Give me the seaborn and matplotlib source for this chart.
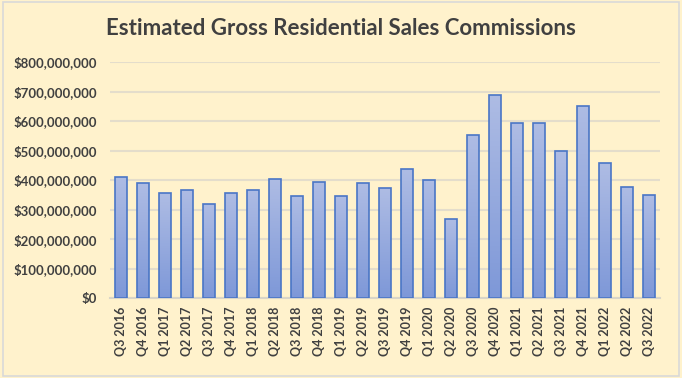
import numpy as np
import pandas as pd
import matplotlib
matplotlib.use('Agg')
import matplotlib.pyplot as plt
import seaborn as sns
from matplotlib.ticker import FuncFormatter
from matplotlib.colors import LinearSegmentedColormap

quarters = ['Q3 2016', 'Q4 2016', 'Q1 2017', 'Q2 2017', 'Q3 2017', 'Q4 2017',
            'Q1 2018', 'Q2 2018', 'Q3 2018', 'Q4 2018', 'Q1 2019', 'Q2 2019',
            'Q3 2019', 'Q4 2019', 'Q1 2020', 'Q2 2020', 'Q3 2020', 'Q4 2020',
            'Q1 2021', 'Q2 2021', 'Q3 2021', 'Q4 2021', 'Q1 2022', 'Q2 2022',
            'Q3 2022']
commissions = [411e6, 389e6, 355e6, 368e6, 318e6, 355e6,
               368e6, 405e6, 347e6, 393e6, 347e6, 389e6,
               372e6, 436e6, 402e6, 267e6, 554e6, 689e6,
               592e6, 592e6, 499e6, 652e6, 457e6, 377e6,
               348e6]

df = pd.DataFrame({'quarter': quarters, 'commissions': commissions})

sns.set_style('white')
plt.rcParams['font.family'] = ['Lato', 'DejaVu Sans']

bg = '#FFF2CC'
fig = plt.figure(figsize=(6.82, 3.78), dpi=100, facecolor=bg)
ax = fig.add_axes([0.161, 0.211, 0.807, 0.625])
ax.set_facecolor(bg)

sns.barplot(data=df, x='quarter', y='commissions', ax=ax, color='#98AAE0',
            width=0.53, edgecolor='#4A76C6', linewidth=1.2, zorder=3)

# gradient fill like excel
cmap = LinearSegmentedColormap.from_list('g', ['#7E98D8', '#AEBCE4'])
grad = np.linspace(0, 1, 100).reshape(-1, 1)
for p in ax.patches:
    x0, y0 = p.get_x(), p.get_y()
    w, h = p.get_width(), p.get_height()
    im = ax.imshow(grad, cmap=cmap, aspect='auto', origin='lower',
                   extent=[x0, x0 + w, y0, y0 + h], zorder=3.5)
    im.set_clip_path(p)
    p.set_facecolor('none')
    p.set_zorder(4)

ax.set_xlim(-0.5, len(quarters) - 0.5)
ax.set_ylim(0, 800e6)
ax.set_yticks(np.arange(0, 800e6 + 1, 100e6))
ax.yaxis.set_major_formatter(FuncFormatter(lambda v, _: '${:,.0f}'.format(v)))
ax.grid(axis='y', color='#E4DDCB', linewidth=1.5, zorder=0)
ax.set_axisbelow(True)
for s in ['top', 'right', 'left']:
    ax.spines[s].set_visible(False)
ax.spines['bottom'].set_color('#D9D5C8')
ax.spines['bottom'].set_linewidth(1.5)
ax.tick_params(axis='both', length=0, colors='#404040', labelsize=9)
ax.tick_params(axis='y', pad=9, labelsize=9.5)
ax.tick_params(axis='x', pad=6)
plt.setp(ax.get_xticklabels(), rotation=90, fontweight='bold')
plt.setp(ax.get_yticklabels(), fontweight='bold')
ax.set_xlabel('')
ax.set_ylabel('')

fig.text(0.5, 0.925, 'Estimated Gross Residential Sales Commissions',
         ha='center', va='center', fontsize=16, fontweight='bold', color='#404040')

border = plt.Rectangle((0.004, 0.006), 0.992, 0.988, transform=fig.transFigure,
                       fill=False, edgecolor='#D9D9D9', linewidth=1.2)
fig.patches.append(border)

fig.savefig('out.png', dpi=100, facecolor=bg)
